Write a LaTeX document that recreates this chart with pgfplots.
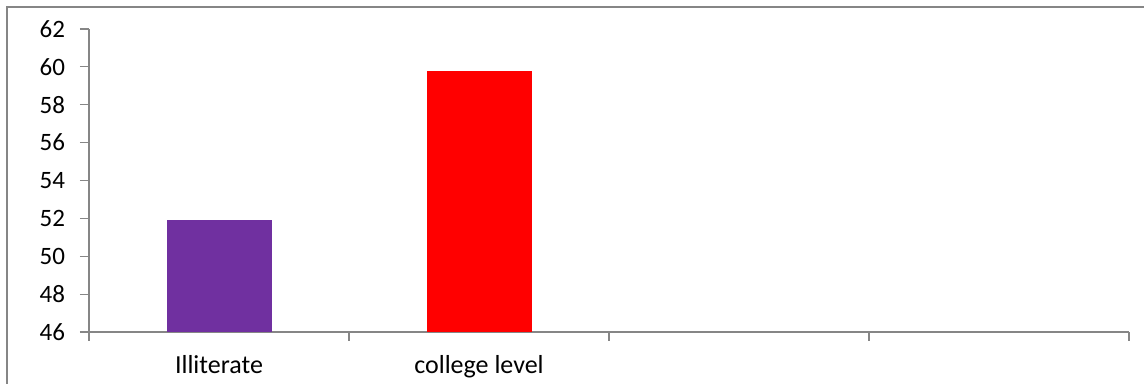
\documentclass[border=0pt]{standalone}
\usepackage{pgfplots}
\pgfplotsset{compat=1.18}
\usepackage{fontspec}
\setmainfont{Carlito}
\definecolor{axisgray}{HTML}{868686}
\definecolor{barpurple}{HTML}{7030A0}
\definecolor{barred}{HTML}{FF0000}
\begin{document}
\begin{tikzpicture}
  % page area (1 px = 0.5pt) and the chart frame's left and top edges
  \useasboundingbox (0pt,0pt) rectangle (572.5pt,192pt);
  \draw[axisgray, line width=0.6pt] (3.5pt,0pt) -- (3.5pt,188.5pt);
  \draw[axisgray, line width=0.6pt] (3.2pt,188.5pt) -- (572pt,188.5pt);
  \begin{axis}[
    at={(44.5pt,26pt)}, anchor=south west,
    scale only axis,
    width=520pt, height=151.5pt,
    xmin=-0.5, xmax=3.5,
    ymin=46, ymax=62,
    ytick={46,48,...,62},
    xtick={-0.5,0.5,1.5,2.5,3.5},
    xticklabels={},
    extra x ticks={0,1},
    extra x tick labels={Illiterate, college level},
    extra x tick style={major tick length=0pt,
      xticklabel style={font=\fontsize{13}{15}\selectfont, yshift=-8pt}},
    axis x line*=bottom,
    axis y line*=left,
    axis line style={axisgray, line width=0.55pt},
    tick style={axisgray, line width=0.55pt},
    tick align=outside,
    major tick length=4.5pt,
    /pgf/number format/assume math mode=true,
    yticklabel style={font=\fontsize{12.5}{14}\selectfont, xshift=-4pt},
    ybar, bar width=52.5pt, bar shift=0pt,
    clip=false,
  ]
    \addplot[fill=barpurple, draw=none] coordinates {(0,51.9)};
    \addplot[fill=barred, draw=none] coordinates {(1,59.8)};
  \end{axis}
\end{tikzpicture}
\end{document}
